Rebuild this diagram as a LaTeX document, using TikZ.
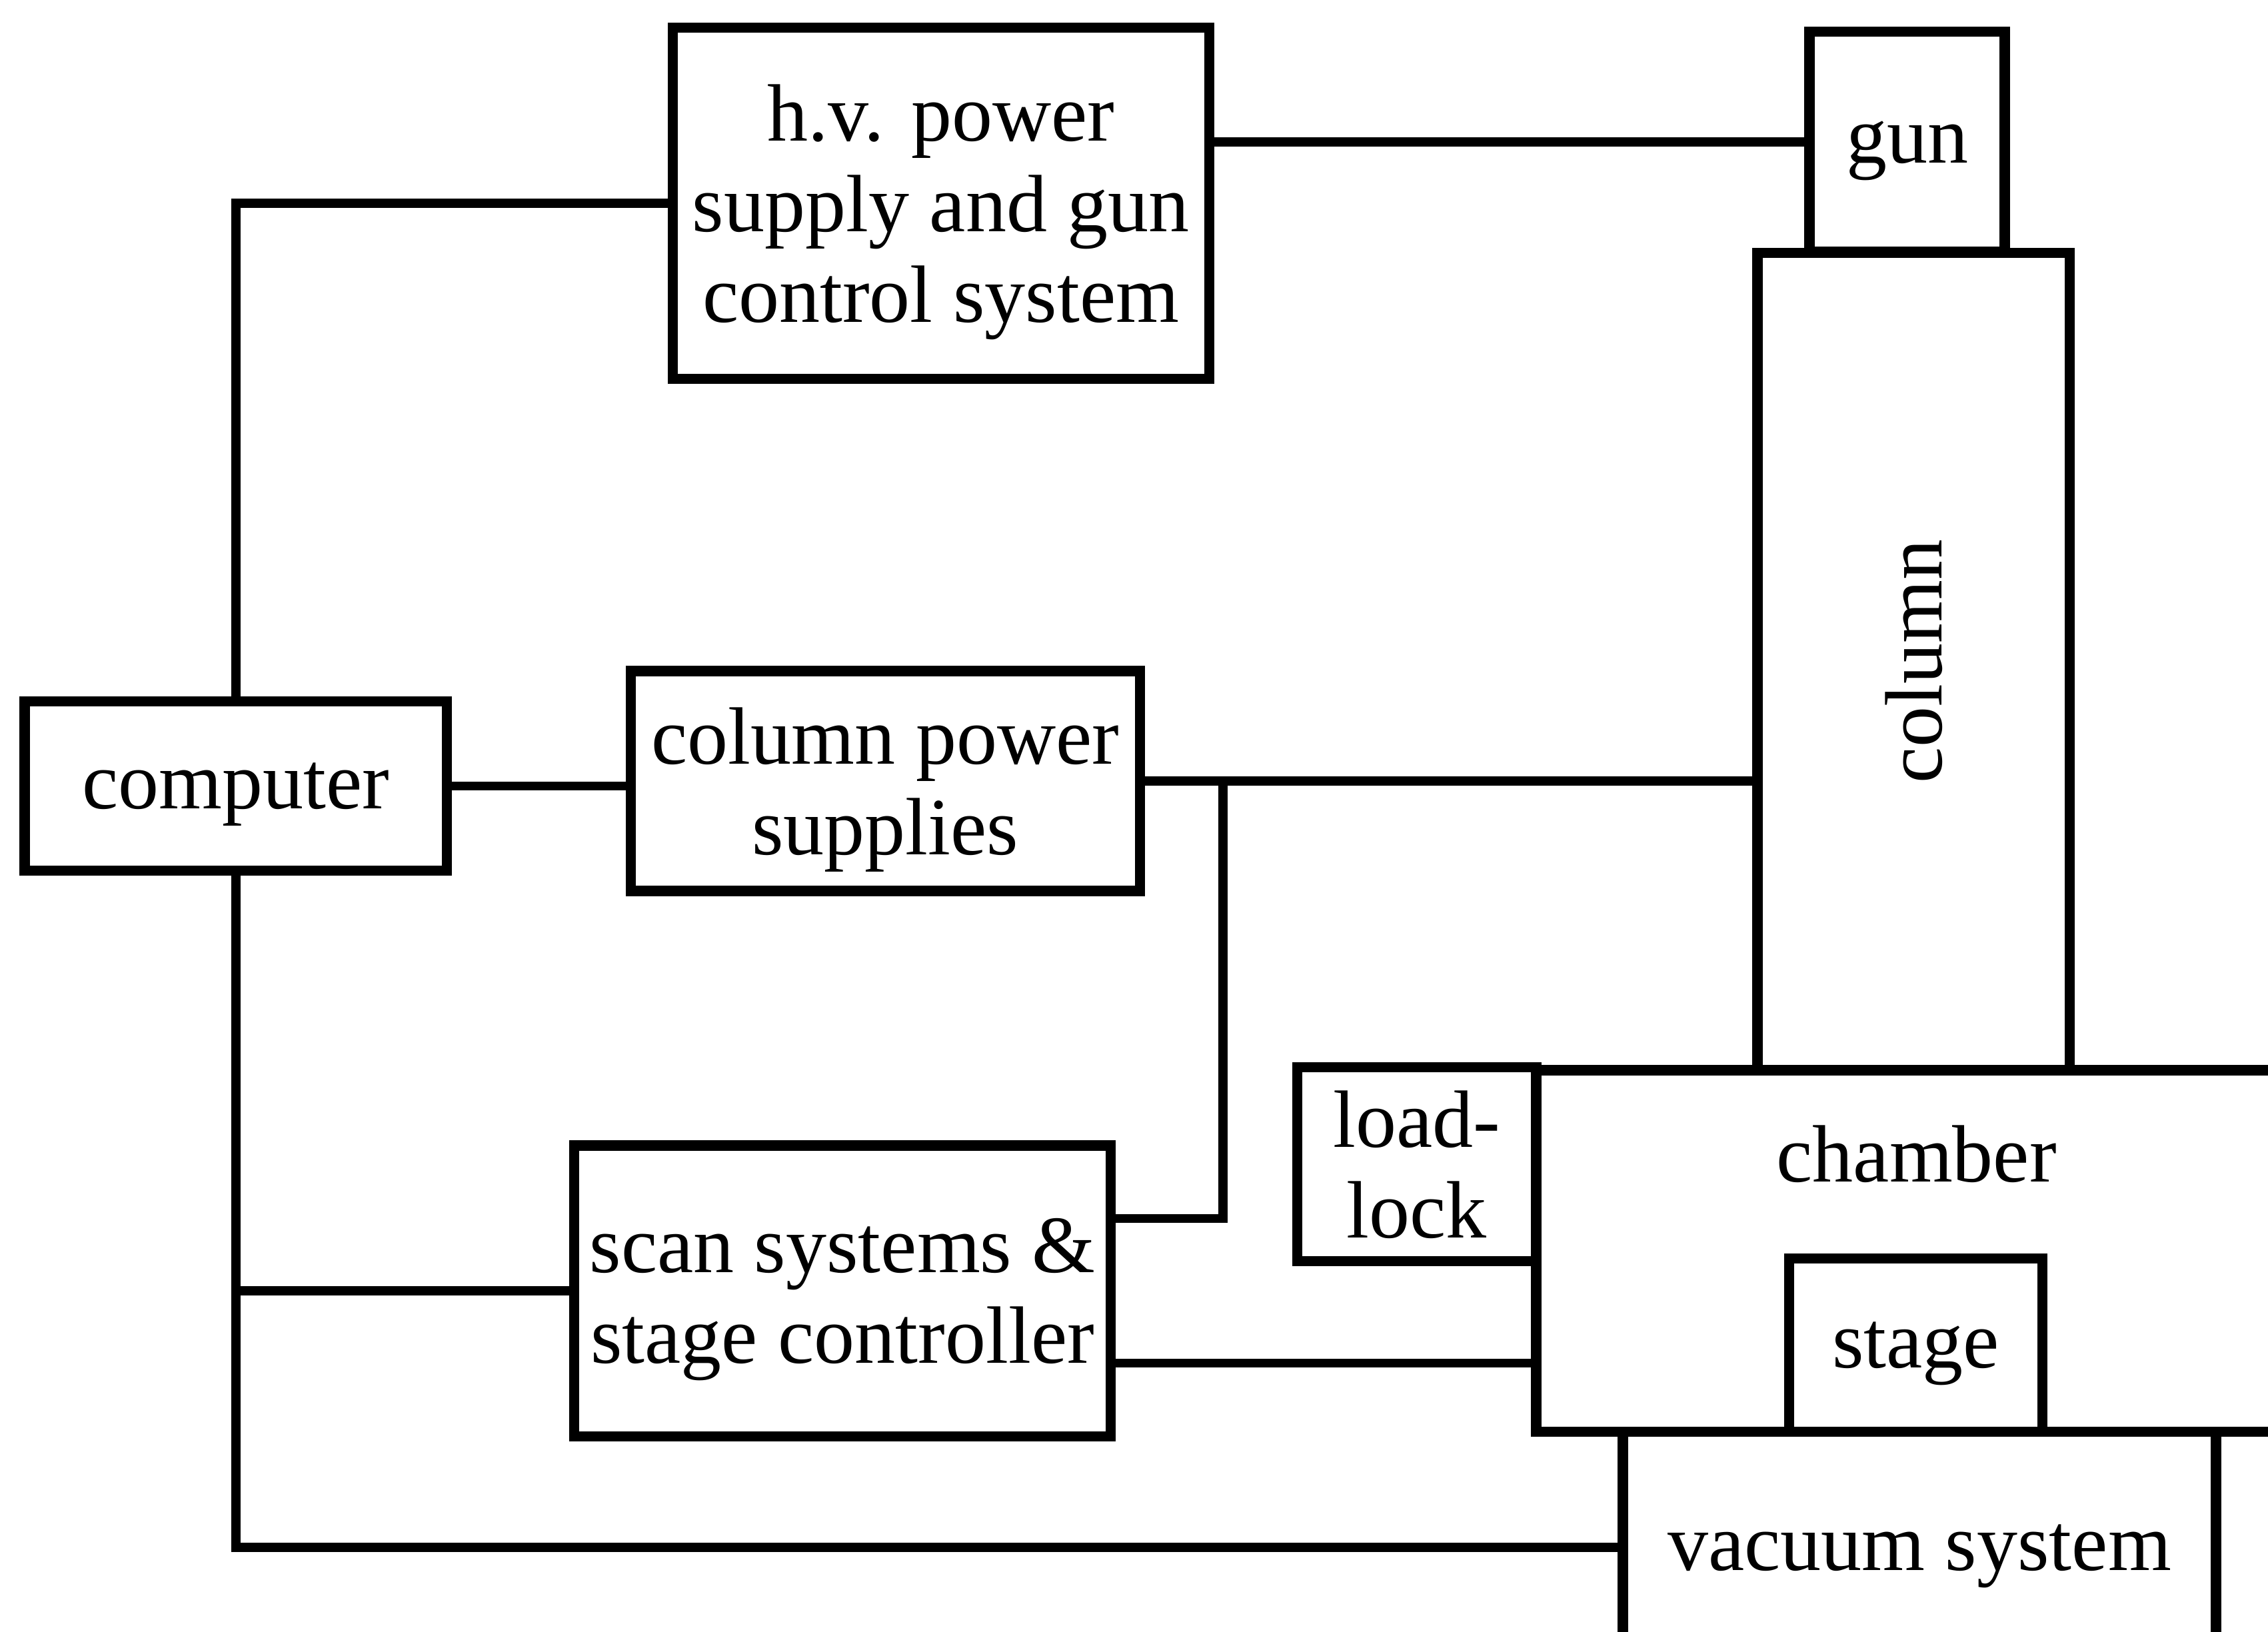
\documentclass[tikz,border=0pt]{standalone}
\usepackage{fontspec}
\setmainfont{Liberation Serif}
\usepackage{tikz}
\usetikzlibrary{calc}

\tikzset{
  blk/.style={draw, line width=2pt, inner sep=0pt, align=center, text depth=0pt,
    font=\fontsize{16}{17.8}\selectfont},
  wire/.style={line width=1.8pt},
}

\begin{document}
\begin{tikzpicture}[x=1cm,y=1cm]
  \useasboundingbox (0,0) rectangle (15.68,-11.28);
  \clip (0,0) rectangle (15.68,-11.28);
  % control side
  \node[blk, minimum width=2.92cm, minimum height=1.17cm] (computer) at (1.63,-5.435) {computer};
  \node[blk, minimum width=3.71cm, minimum height=2.43cm] (hv) at (6.505,-1.405) {h.v. power\\supply and gun\\control system};
  \node[blk, minimum width=3.52cm, minimum height=1.52cm] (cps) at (6.12,-5.40) {column power\\supplies};
  \node[blk, minimum width=3.71cm, minimum height=2.01cm] (scan) at (5.825,-8.925) {scan systems \&\\stage controller};
  % instrument side
  \node[blk, minimum width=1.35cm, minimum height=1.52cm] (gun) at (13.185,-0.98) {gun};
  \node[blk, minimum width=2.16cm, minimum height=5.65cm] (column) at (13.23,-4.575) {\rotatebox{90}{column}};
  \node[blk, minimum width=1.65cm, minimum height=1.34cm] (loadlock) at (9.795,-8.05) {load-\\lock};
  \node[blk, minimum width=5.33cm, minimum height=2.50cm] (chamber) at (13.285,-8.65) {};
  \node[font=\fontsize{16}{17.8}\selectfont] (chamberlbl) at (13.25,-7.98) {chamber};
  \node[blk, minimum width=1.75cm, minimum height=1.20cm] (stage) at (13.245,-9.30) {stage};
  \node[blk, minimum width=4.10cm, minimum height=1.60cm] (vacuum) at (13.27,-10.70) {vacuum system};

  % connections
  \draw[wire] (computer.north) |- (hv.west);
  \draw[wire] (gun.west) -- (gun.west -| hv.east);
  \draw[wire] (computer.east) -- (computer.east -| cps.west);
  \draw[wire] (cps.east) -- (cps.east -| column.west);
  \coordinate (tap) at ($(cps.east)+(0.54,0)$);
  \draw[wire] (tap) |- ([yshift=5mm]scan.east);
  \draw[wire] ([yshift=-5mm]scan.east) -- ([yshift=-5mm]scan.east -| chamber.west);
  \draw[wire] (computer.south) |- (vacuum.west);
  \draw[wire] (computer.south |- scan.west) -- (scan.west);
\end{tikzpicture}
\end{document}
